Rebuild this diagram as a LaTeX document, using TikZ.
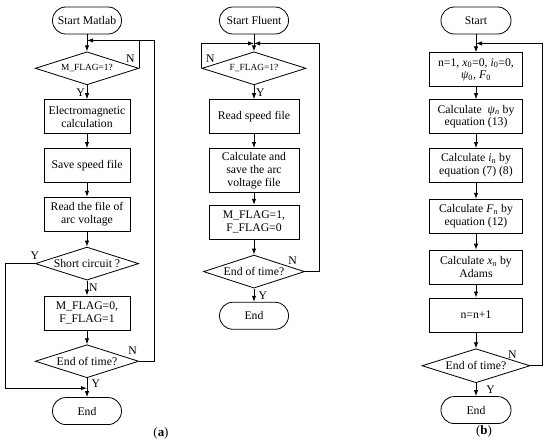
\documentclass[tikz,border=0pt]{standalone}
\usepackage{fontspec}
\setmainfont{Liberation Serif}
\usetikzlibrary{arrows.meta,positioning,shapes.geometric}
\newcommand{\dtext}[1]{\makebox[0pt]{#1}}

\begin{document}
\begin{tikzpicture}[
  font=\fontsize{10}{11}\selectfont, >={Latex[length=1.8mm,width=1.3mm]},
  line width=0.7pt,
  term/.style={draw, rounded corners=0.4cm, minimum width=2.07cm, minimum height=0.81cm, inner sep=1pt, align=center},
  proc/.style={draw, rectangle, minimum width=2.58cm, minimum height=1.02cm, inner sep=1pt, align=center},
  dec/.style={draw, diamond, minimum width=3.1cm, minimum height=0.99cm, inner sep=0pt},
  arr/.style={->},
  lab/.style={inner sep=1.5pt},
  node distance=0.42cm
]
\useasboundingbox (0,0) rectangle (16.5,-13.41);
% ---------------- (a) Matlab side
\node[term] (startA) at (2.61,-0.615) {Start Matlab};
\coordinate[below=0.18cm of startA] (mA);
\node[dec, below=0.51cm of startA] (flagA) {\dtext{\footnotesize M\_FLAG=1?}};
\node[proc, below=of flagA] (emA) {Electromagnetic\\calculation};
\node[proc, below=of emA] (saveA) {Save speed file};
\node[proc, below=of saveA] (readA) {Read the file of\\arc voltage};
\node[dec, below=0.45cm of readA] (shortA) {\dtext{Short circuit ?}};
\node[proc, below=0.45cm of shortA] (flag0A) {M\_FLAG=0,\\F\_FLAG=1};
\node[dec, below=of flag0A] (timeA) {\dtext{End of time?}};
\node[term, below=0.57cm of timeA] (endA) {End};
\coordinate[above=0.27cm of endA] (mYA);
\node[font=\fontsize{11}{13}\selectfont] (capA) at (4.83,-12.99) {(\textbf{a})};
% ---------------- (a) Fluent side
\node[term] (startB) at (7.62,-0.615) {Start Fluent};
\coordinate[below=0.27cm of startB] (mB);
\node[dec, below=0.51cm of startB, minimum width=3.12cm] (flagB) {\dtext{\footnotesize F\_FLAG=1?}};
\node[proc, below=of flagB, minimum width=2.7cm] (readB) {Read speed file};
\node[proc, below=of readB, minimum width=2.7cm, minimum height=1.32cm] (calcB) {Calculate and\\save the arc\\voltage file};
\node[proc, below=0.36cm of calcB, minimum width=2.7cm] (flag1B) {M\_FLAG=1,\\F\_FLAG=0};
\node[dec, below=0.45cm of flag1B, minimum width=3.03cm] (timeB) {\dtext{End of time?}};
\node[term, below=0.4cm of timeB] (endB) {End};
% ---------------- (b)
\node[term, minimum width=2.1cm] (startC) at (14.28,-0.615) {Start};
\coordinate[below=0.27cm of startC] (mC);
\node[proc, below=0.54cm of startC, minimum width=2.79cm] (initC) {n=1, \textit{x}\textsubscript{0}=0, \textit{i}\textsubscript{0}=0,\\\textit{ψ}\textsubscript{0}, \textit{F}\textsubscript{0}};
\node[proc, below=0.36cm of initC, minimum width=2.79cm] (psiC) {Calculate \ \textit{ψ}\textsubscript{\textit{n}} by\\equation (13)};
\node[proc, below=of psiC, minimum width=2.79cm] (iC) {Calculate \textit{i}\textsubscript{\textit{n}} by\\equation (7) (8)};
\node[proc, below=0.48cm of iC, minimum width=2.79cm] (FC) {Calculate \textit{F}\textsubscript{\textit{n}} by\\equation (12)};
\node[proc, below=0.48cm of FC, minimum width=2.79cm] (xC) {Calculate \textit{x}\textsubscript{\textit{n}} by\\Adams};
\node[proc, below=0.39cm of xC, minimum width=2.79cm] (nC) {n=n+1};
\node[dec, below=0.48cm of nC, minimum width=3.24cm, minimum height=1.02cm] (timeC) {\dtext{End of time?}};
\node[term, minimum width=2.1cm, below=0.39cm of timeC] (endC) {End};
\node[font=\fontsize{11}{13}\selectfont] (capB) at (14.52,-12.93) {(\textbf{b})};
% ---------------- arrows (a) Matlab
\draw[arr] (startA) -- (flagA);
\draw (flagA.east) node[lab, above left, xshift=-2pt, yshift=3pt]{N} -- (flagA.east |- mA);
\draw[arr] (flagA) -- node[lab, left]{Y} (emA);
\draw[arr] (emA) -- (saveA);
\draw[arr] (saveA) -- (readA);
\draw[arr] (readA) -- (shortA);
\draw[arr] (shortA.west) node[lab, above, yshift=2pt]{Y} -- ++(-0.9,0) |- (mYA);
\draw[arr] (shortA) -- node[lab, right]{N} (flag0A);
\draw[arr] (flag0A) -- (timeA);
\draw[arr] (timeA.east) node[lab, above left, yshift=4pt]{N} -- ++(0.45,0) |- (mA);
\draw[arr] (timeA) -- node[lab, right, pos=0.3, xshift=2pt]{Y} (endA);
% ---------------- arrows (a) Fluent
\draw[arr] (startB) -- (flagB);
\draw[arr] (flagB.west) node[lab, above right, xshift=2pt, yshift=3pt]{N} |- (mB);
\draw[arr] (flagB) -- node[lab, right]{Y} (readB);
\draw[arr] (readB) -- (calcB);
\draw[arr] (calcB) -- (flag1B);
\draw[arr] (flag1B) -- (timeB);
\draw[arr] (timeB.east) node[lab, above left, xshift=-5pt, yshift=4pt]{N} -- ++(0.42,0) |- (mB);
\draw[arr] (timeB) -- node[lab, right, xshift=2pt]{Y} (endB);
% ---------------- arrows (b)
\draw[arr] (startC) -- (initC);
\draw[arr] (initC) -- (psiC);
\draw[arr] (psiC) -- (iC);
\draw[arr] (iC) -- (FC);
\draw[arr] (FC) -- (xC);
\draw[arr] (xC) -- (nC);
\draw[arr] (nC) -- (timeC);
\draw[arr] (timeC.east) node[lab, above left, xshift=-10pt, yshift=4pt]{N} -- ++(0.36,0) |- (mC);
\draw[arr] (timeC) -- node[lab, right, xshift=7pt]{Y} (endC);
\end{tikzpicture}
\end{document}
